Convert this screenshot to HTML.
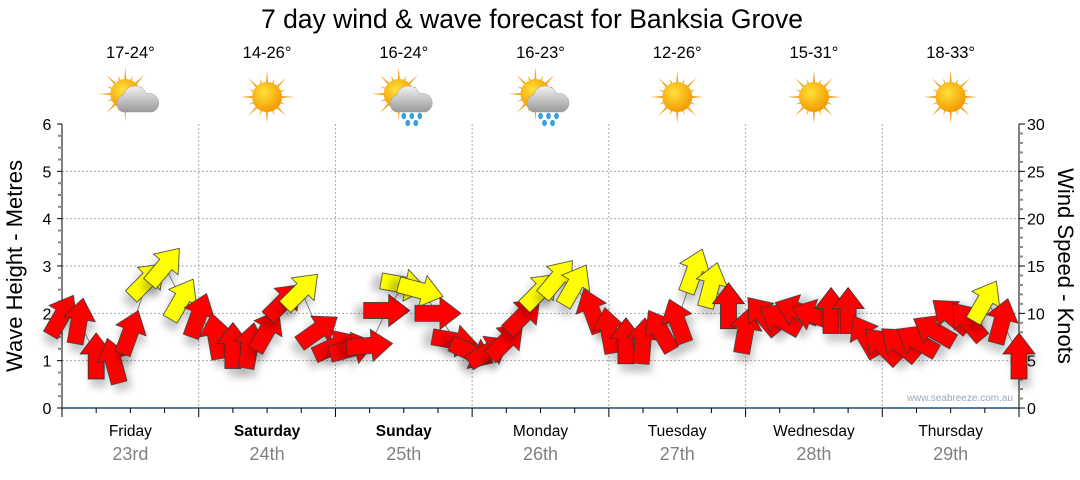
<!DOCTYPE html>
<html><head><meta charset="utf-8">
<style>
body{margin:0;background:#fff;width:1080px;height:475px;overflow:hidden;font-family:"Liberation Sans",sans-serif}
svg text{font-family:"Liberation Sans","DejaVu Sans",sans-serif}
</style></head>
<body>
<svg id="c" width="1080" height="475">
<defs>
<filter id="sh" x="-50%" y="-50%" width="200%" height="200%"><feGaussianBlur in="SourceAlpha" stdDeviation="4"/><feOffset dx="3" dy="8"/><feComponentTransfer><feFuncA type="linear" slope="0.22"/></feComponentTransfer><feMerge><feMergeNode/><feMergeNode in="SourceGraphic"/></feMerge></filter>
<radialGradient id="sun" cx="40%" cy="35%" r="65%"><stop offset="0" stop-color="#ffe13a"/><stop offset="1" stop-color="#f29a00"/></radialGradient>
<linearGradient id="cld" x1="0" y1="0" x2="0" y2="1"><stop offset="0" stop-color="#f2f2f2"/><stop offset="1" stop-color="#9a9a9a"/></linearGradient>
</defs>
<text x="532" y="28" font-size="26.5" text-anchor="middle">7 day wind &amp; wave forecast for Banksia Grove</text>
<g id="grid"></g><g id="axes"></g><g id="icons"></g><g id="marks"></g>
<text x="1013" y="401" font-size="10" fill="#9aa8b8" text-anchor="end">www.seabreeze.com.au</text>
<text transform="translate(22,266) rotate(-90)" font-size="22" text-anchor="middle">Wave Height - Metres</text>
<text transform="translate(1058,266) rotate(90)" font-size="22" text-anchor="middle">Wind Speed - Knots</text>
</svg>
<script>
const days=["Friday","Saturday","Sunday","Monday","Tuesday","Wednesday","Thursday"];
const dates=["23rd","24th","25th","26th","27th","28th","29th"];
const boldDays=[false,true,true,false,false,false,false];
const temps=["17-24°","14-26°","16-24°","16-23°","12-26°","15-31°","18-33°"];
const weather=["cloud","sun","rain","rain","sun","sun","sun"];
const waveTicks=[0,1,2,3,4,5,6];
const windTicks=[0,5,10,15,20,25,30];
// 3-hourly wind data
const windKnots=[9.8,9.2,5.5,5,8,13.5,15,11.5,9.8,7.6,6.6,6.6,8.2,11.3,12.4,8.2,6.6,6.3,6.6,10.3,13,12.4,10,7.1,5.8,6,7.1,9.8,12.4,13.7,13,10.3,8.2,7.1,7.1,8.2,9.2,14.5,13,10.8,8.2,9.8,9.4,10.3,9.8,10.3,10.3,7.6,6.6,6.8,7.1,8.2,9.8,9.2,11.3,9.2,5.5];
const windDir=[30,10,0,-15,20,45,40,30,20,-10,0,10,30,45,45,55,65,75,85,90,100,105,90,100,115,60,45,45,45,40,30,-20,-10,0,5,-30,-20,20,15,0,10,-40,-60,-70,-70,0,0,-30,-45,-50,-60,-60,-50,-40,30,15,0];
const windColor=["r","r","r","r","r","y","y","y","r","r","r","r","r","r","y","r","r","r","r","r","y","y","r","r","r","r","r","r","y","y","y","r","r","r","r","r","r","y","y","r","r","r","r","r","r","r","r","r","r","r","r","r","r","r","y","r","r"];
const NS="http://www.w3.org/2000/svg";
const X0=62,X1=1019,Y0=408,Y6=124;
const dayW=(X1-X0)/7;
const xT=h=>X0+h/(24*7)*(X1-X0);
const yW=m=>Y0-m/6*(Y0-Y6);
const yK=k=>Y0-k/30*(Y0-Y6);
function mk(tag,attrs,parent){const e=document.createElementNS(NS,tag);for(const k in attrs)e.setAttribute(k,attrs[k]);parent.appendChild(e);return e;}
const grid=document.getElementById('grid'),axes=document.getElementById('axes'),icons=document.getElementById('icons'),marks=document.getElementById('marks');
waveTicks.forEach(v=>{if(v>0&&v<6){const l=mk('line',{x1:X0,x2:X1,y1:yW(v),y2:yW(v),stroke:'#aaa','stroke-dasharray':'2,2'},grid);

}});
for(let d=1;d<7;d++){const l=mk('line',{x1:X0+d*dayW,x2:X0+d*dayW,y1:Y6,y2:Y0,stroke:'#aaa','stroke-dasharray':'2,2'},grid);

}
mk('line',{x1:X0,x2:X0,y1:Y6,y2:Y0,stroke:'#000'},axes);
mk('line',{x1:X1,x2:X1,y1:Y6,y2:Y0,stroke:'#000'},axes);
const xa=mk('line',{x1:X0,x2:X1,y1:Y0,y2:Y0,stroke:'#1f4e79','stroke-width':1.5},axes);


for(let i=0;i<=24;i++){const v=i*0.25,y=yW(v),maj=i%4==0;mk('line',{x1:X0-(maj?5:4),x2:X0,y1:y,y2:y,stroke:maj?'#000':'#888','stroke-width':maj?1:2},axes);}
for(let i=0;i<=30;i++){const y=yK(i),maj=i%5==0;mk('line',{x1:X1,x2:X1+(maj?6:4),y1:y,y2:y,stroke:maj?'#000':'#888','stroke-width':maj?1:2},axes);}
waveTicks.forEach(v=>{const t=mk('text',{x:47,y:yW(v)+6,'font-size':16,'text-anchor':'middle'},axes);t.textContent=v;

});
windTicks.forEach(v=>{const t=mk('text',{x:1027,y:yK(v)+6,'font-size':16},axes);t.textContent=v;

});
for(let i=0;i<=28;i++){const x=X0+i*dayW/4,maj=i%4==0;mk('line',{x1:x,x2:x,y1:Y0,y2:Y0+(maj?9:5),stroke:'#000'},axes);}
days.forEach((d,i)=>{const cx=X0+(i+0.5)*dayW;
const t=mk('text',{x:cx,y:436,'font-size':15.5,'text-anchor':'middle','font-weight':boldDays[i]?'bold':'normal'},axes);t.textContent=d;


const t2=mk('text',{x:cx,y:460,'font-size':18,'text-anchor':'middle',fill:'#808080'},axes);t2.textContent=dates[i];


const t3=mk('text',{x:cx,y:58,'font-size':16.5,'text-anchor':'middle'},icons);t3.textContent=temps[i];


const g=mk('g',{transform:`translate(${cx},97)`},icons);


const sx=weather[i]=='sun'?0:-5,sy=weather[i]=='sun'?0:-3;
for(let a=0;a<16;a++){const r=a*22.5*Math.PI/180,L=a%2?20:27;mk('polygon',{points:`${sx+Math.cos(r-0.12)*11},${sy+Math.sin(r-0.12)*11} ${sx+Math.cos(r)*L},${sy+Math.sin(r)*L} ${sx+Math.cos(r+0.12)*11},${sy+Math.sin(r+0.12)*11}`,fill:'#f0a020'},g);}
mk('circle',{cx:sx,cy:sy,r:15,fill:'url(#sun)'},g);
if(weather[i]!='sun'){mk('path',{d:'M-8,15 a9,9 0 0 1 1,-17 a12,12 0 0 1 23,-1 a9,9 0 0 1 6,18 z',fill:'url(#cld)',stroke:'#999','stroke-width':0.5},g);}
if(weather[i]=='rain'){[[0,19],[8,19],[16,19],[4,26],[12,26]].forEach(p=>mk('ellipse',{cx:p[0],cy:p[1],rx:2.4,ry:3.2,fill:'#3aa0e0'},g));}
});
let pts=windKnots.map((k,i)=>`${xT(i*3)},${yK(k)}`).join(' ');
mk('polyline',{points:pts,fill:'none',stroke:'#888','stroke-width':1},marks);
windKnots.forEach((k,i)=>{const x=xT(i*3),y=yK(k);
const p=mk('polygon',{points:'0,-23 16,-2 8,-2 8,23 -8,23 -8,-2 -16,-2',fill:windColor[i]=='y'?'#ffff00':'#ff0000',stroke:'#333','stroke-width':0.8,transform:`translate(${x},${y}) rotate(${windDir[i]})`,filter:'url(#sh)'},marks);

});
</script>
</body></html>
